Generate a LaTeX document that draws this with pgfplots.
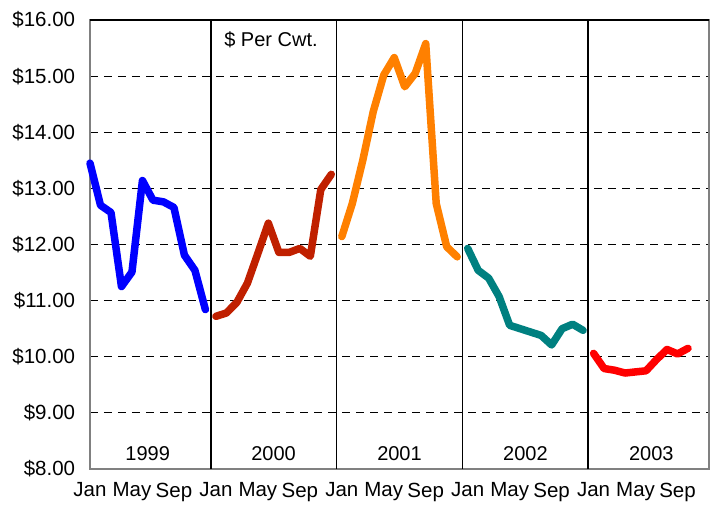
\documentclass[border=0pt]{standalone}
\usepackage{fontspec}
\setmainfont{Liberation Sans}
\usepackage{pgfplots}
\pgfplotsset{compat=1.18}
\definecolor{cA}{RGB}{0,0,255}
\definecolor{cB}{RGB}{192,32,0}
\definecolor{cC}{RGB}{255,128,0}
\definecolor{cD}{RGB}{0,128,128}
\definecolor{cE}{RGB}{255,0,0}
\begin{document}
\fontsize{20}{24}\selectfont
\begin{tikzpicture}
\begin{axis}[
  scale only axis, width=619pt, height=449pt,
  xmin=0, xmax=59, ymin=8, ymax=16,
  xtick={0,4,...,56},
  xticklabels={Jan,May,Sep,Jan,May,Sep,Jan,May,Sep,Jan,May,Sep,Jan,May,Sep},
  ytick={8,9,...,16},
  yticklabels={\$8.00,\$9.00,\$10.00,\$11.00,\$12.00,\$13.00,\$14.00,\$15.00,\$16.00},
  major tick length=0pt,
  ymajorgrids,
  major grid style={black, dash pattern=on 8pt off 6pt, line width=1pt},
  axis line style={draw=gray, line width=1.5pt},
  tick label style={font=\fontsize{20.5}{24}\selectfont},
  xticklabel style={yshift=-7pt},
  yticklabel style={xshift=-8pt},
  extra x ticks={11.5,23.5,35.5,47.5},
  extra x tick labels={},
  extra x tick style={grid=major, major grid style={solid, black, line width=1.8pt}},
  clip=false,
  every axis plot/.append style={line width=7.5pt, line join=round, line cap=round, mark=none},
]
\coordinate (sw) at (rel axis cs:0,0);
\coordinate (ne) at (rel axis cs:1,1);
\draw[black, line width=1.3pt] (rel axis cs:0,1) -- (rel axis cs:1,1);
\addplot[cA] coordinates {(0,13.45)(1,12.70)(2,12.57)(3,11.25)(4,11.51)(5,13.14)(6,12.79)(7,12.76)(8,12.66)(9,11.81)(10,11.54)(11,10.84)};
\addplot[cB] coordinates {(12,10.72)(13,10.78)(14,10.97)(15,11.31)(16,11.84)(17,12.38)(18,11.86)(19,11.86)(20,11.93)(21,11.79)(22,12.98)(23,13.25)};
\addplot[cC] coordinates {(24,12.14)(25,12.73)(26,13.50)(27,14.37)(28,15.02)(29,15.33)(30,14.81)(31,15.05)(32,15.58)(33,12.73)(34,11.96)(35,11.78)};
\addplot[cD] coordinates {(36,11.93)(37,11.54)(38,11.40)(39,11.07)(40,10.56)(41,10.50)(42,10.44)(43,10.38)(44,10.21)(45,10.50)(46,10.58)(47,10.47)};
\addplot[cE] coordinates {(48,10.06)(49,9.79)(50,9.76)(51,9.71)(52,9.73)(53,9.75)(54,9.95)(55,10.13)(56,10.05)(57,10.15)};
\node[font=\fontsize{20}{24}\selectfont] at (axis cs:5.5,8.28) {1999};
\node[font=\fontsize{20}{24}\selectfont] at (axis cs:17.5,8.28) {2000};
\node[font=\fontsize{20}{24}\selectfont] at (axis cs:29.5,8.28) {2001};
\node[font=\fontsize{20}{24}\selectfont] at (axis cs:41.5,8.28) {2002};
\node[font=\fontsize{20}{24}\selectfont] at (axis cs:53.5,8.28) {2003};
\node at (axis cs:17.25,15.64) {\$ Per Cwt.};
\end{axis}
\pgfresetboundingbox
\path[use as bounding box] ([shift={(-90pt,-35pt)}]sw) rectangle ([shift={(8pt,20pt)}]ne);
\end{tikzpicture}
\end{document}
